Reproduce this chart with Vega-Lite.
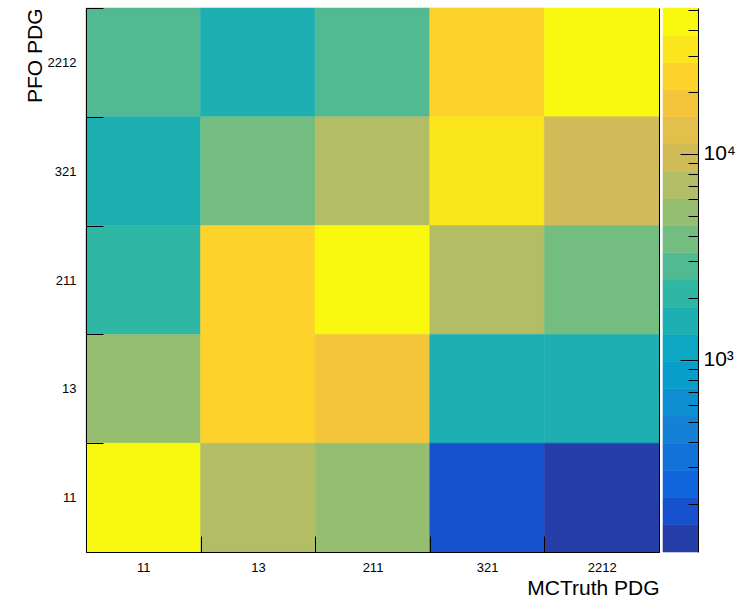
{
  "$schema": "https://vega.github.io/schema/vega-lite/v6.json",
  "background": "white",
  "padding": {"left": 24, "top": 2, "right": 0, "bottom": 0},
  "autosize": {"type": "pad"},
  "spacing": 2,
  "config": {
    "view": {"stroke": null},
    "font": "Liberation Sans",
    "axis": {
      "domainColor": "black",
      "tickColor": "black",
      "labelColor": "black",
      "titleColor": "black",
      "domainWidth": 1,
      "tickWidth": 1,
      "grid": false,
      "titleFontWeight": "normal",
      "labelFont": "Liberation Sans",
      "titleFont": "Liberation Sans"
    }
  },
  "datasets": {
    "cells": [
      {"mc": "11", "pfo": "2212", "count": 2838},
      {"mc": "13", "pfo": "2212", "count": 1545},
      {"mc": "211", "pfo": "2212", "count": 2838},
      {"mc": "321", "pfo": "2212", "count": 23840},
      {"mc": "2212", "pfo": "2212", "count": 43790},
      {"mc": "11", "pfo": "321", "count": 1545},
      {"mc": "13", "pfo": "321", "count": 3846},
      {"mc": "211", "pfo": "321", "count": 7065},
      {"mc": "321", "pfo": "321", "count": 32310},
      {"mc": "2212", "pfo": "321", "count": 9577},
      {"mc": "11", "pfo": "211", "count": 2094},
      {"mc": "13", "pfo": "211", "count": 23840},
      {"mc": "211", "pfo": "211", "count": 43790},
      {"mc": "321", "pfo": "211", "count": 7065},
      {"mc": "2212", "pfo": "211", "count": 3846},
      {"mc": "11", "pfo": "13", "count": 5213},
      {"mc": "13", "pfo": "13", "count": 23840},
      {"mc": "211", "pfo": "13", "count": 17590},
      {"mc": "321", "pfo": "13", "count": 1545},
      {"mc": "2212", "pfo": "13", "count": 1545},
      {"mc": "11", "pfo": "11", "count": 43790},
      {"mc": "13", "pfo": "11", "count": 7065},
      {"mc": "211", "pfo": "11", "count": 5213},
      {"mc": "321", "pfo": "11", "count": 184},
      {"mc": "2212", "pfo": "11", "count": 136}
    ],
    "bands": [
      {"c": "z", "lo": 116.6, "hi": 158},
      {"c": "z", "lo": 158, "hi": 214.1},
      {"c": "z", "lo": 214.1, "hi": 290.2},
      {"c": "z", "lo": 290.2, "hi": 393.3},
      {"c": "z", "lo": 393.3, "hi": 533.1},
      {"c": "z", "lo": 533.1, "hi": 722.5},
      {"c": "z", "lo": 722.5, "hi": 979.4},
      {"c": "z", "lo": 979.4, "hi": 1327.4},
      {"c": "z", "lo": 1327.4, "hi": 1799.1},
      {"c": "z", "lo": 1799.1, "hi": 2438.6},
      {"c": "z", "lo": 2438.6, "hi": 3305.3},
      {"c": "z", "lo": 3305.3, "hi": 4479.9},
      {"c": "z", "lo": 4479.9, "hi": 6072.1},
      {"c": "z", "lo": 6072.1, "hi": 8230.1},
      {"c": "z", "lo": 8230.1, "hi": 11155},
      {"c": "z", "lo": 11155, "hi": 15119},
      {"c": "z", "lo": 15119, "hi": 20492},
      {"c": "z", "lo": 20492, "hi": 27775},
      {"c": "z", "lo": 27775, "hi": 37647},
      {"c": "z", "lo": 37647, "hi": 51026}
    ]
  },
  "hconcat": [
    {
      "width": 573,
      "height": 544,
      "data": {"name": "cells"},
      "layer": [
        {
          "mark": {"type": "rect", "strokeWidth": 0.6},
          "encoding": {
            "x": {
              "field": "mc", "type": "ordinal",
              "sort": ["11", "13", "211", "321", "2212"],
              "scale": {"paddingInner": 0, "paddingOuter": 0},
              "axis": {
                "title": "MCTruth PDG", "titleAnchor": "end", "titleFontSize": 21,
                "titlePadding": 3, "labelAngle": 0, "labelFontSize": 13,
                "tickBand": "extent", "tickSize": -16, "labelPadding": 25
              }
            },
            "y": {
              "field": "pfo", "type": "ordinal",
              "sort": ["2212", "321", "211", "13", "11"],
              "scale": {"paddingInner": 0, "paddingOuter": 0},
              "axis": {
                "title": "PFO PDG", "titleAnchor": "start", "titleAlign": "right", "titleFontSize": 21,
                "titlePadding": 2, "labelFontSize": 13,
                "tickBand": "extent", "tickSize": -17, "labelPadding": 27
              }
            },
            "color": {
              "field": "count", "type": "quantitative",
              "scale": {
                "type": "threshold",
                "domain": [158, 214.1, 290.2, 393.3, 533.1, 722.5, 979.4, 1327.4, 1799.1, 2438.6, 3305.3, 4479.9, 6072.1, 8230.1, 11155, 15119, 20492, 27775, 37647],
                "range": ["#263EA8", "#1652CD", "#1064DC", "#1272D9", "#1481D6", "#0E8FD1", "#099DCC", "#0DA7C3", "#1EAFB3", "#2EB7A4", "#52BA92", "#74BD81", "#95BE71", "#B3BD65", "#D1BB59", "#E2C04B", "#F4C53B", "#FDD22B", "#FBE61D", "#F9F90F"]
              },
              "legend": null
            },
            "stroke": {
              "field": "count", "type": "quantitative",
              "scale": {
                "type": "threshold",
                "domain": [158, 214.1, 290.2, 393.3, 533.1, 722.5, 979.4, 1327.4, 1799.1, 2438.6, 3305.3, 4479.9, 6072.1, 8230.1, 11155, 15119, 20492, 27775, 37647],
                "range": ["#263EA8", "#1652CD", "#1064DC", "#1272D9", "#1481D6", "#0E8FD1", "#099DCC", "#0DA7C3", "#1EAFB3", "#2EB7A4", "#52BA92", "#74BD81", "#95BE71", "#B3BD65", "#D1BB59", "#E2C04B", "#F4C53B", "#FDD22B", "#FBE61D", "#F9F90F"]
              },
              "legend": null
            }
          }
        },
        {
          "mark": {"type": "rect", "opacity": 0},
          "encoding": {
            "x": {
              "field": "mc", "type": "ordinal",
              "sort": ["11", "13", "211", "321", "2212"]
            },
            "y": {
              "field": "pfo", "type": "ordinal",
              "sort": ["2212", "321", "211", "13", "11"],
              "axis": {"orient": "right", "labels": false, "ticks": false, "title": null}
            }
          }
        }
      ],
      "resolve": {"axis": {"y": "independent"}}
    },
    {
      "width": 35,
      "height": 544,
      "data": {"name": "bands"},
      "layer": [
        {
          "mark": {"type": "rect", "strokeWidth": 0.6},
          "encoding": {
            "x": {"field": "c", "type": "nominal", "axis": null, "scale": {"paddingInner": 0, "paddingOuter": 0}},
            "y": {
              "field": "lo", "type": "quantitative",
              "scale": {"type": "log", "domain": [116.6, 51026], "nice": false, "zero": false},
              "axis": {
                "orient": "right", "title": null, "labels": false, "tickSize": -10, "zindex": 1,
                "values": [200, 300, 400, 500, 600, 700, 800, 900, 2000, 3000, 4000, 5000, 6000, 7000, 8000, 9000, 20000, 30000, 40000, 50000]
              }
            },
            "y2": {"field": "hi"},
            "color": {
              "field": "lo", "type": "quantitative",
              "scale": {
                "type": "threshold",
                "domain": [158, 214.1, 290.2, 393.3, 533.1, 722.5, 979.4, 1327.4, 1799.1, 2438.6, 3305.3, 4479.9, 6072.1, 8230.1, 11155, 15119, 20492, 27775, 37647],
                "range": ["#263EA8", "#1652CD", "#1064DC", "#1272D9", "#1481D6", "#0E8FD1", "#099DCC", "#0DA7C3", "#1EAFB3", "#2EB7A4", "#52BA92", "#74BD81", "#95BE71", "#B3BD65", "#D1BB59", "#E2C04B", "#F4C53B", "#FDD22B", "#FBE61D", "#F9F90F"]
              },
              "legend": null
            },
            "stroke": {
              "field": "lo", "type": "quantitative",
              "scale": {
                "type": "threshold",
                "domain": [158, 214.1, 290.2, 393.3, 533.1, 722.5, 979.4, 1327.4, 1799.1, 2438.6, 3305.3, 4479.9, 6072.1, 8230.1, 11155, 15119, 20492, 27775, 37647],
                "range": ["#263EA8", "#1652CD", "#1064DC", "#1272D9", "#1481D6", "#0E8FD1", "#099DCC", "#0DA7C3", "#1EAFB3", "#2EB7A4", "#52BA92", "#74BD81", "#95BE71", "#B3BD65", "#D1BB59", "#E2C04B", "#F4C53B", "#FDD22B", "#FBE61D", "#F9F90F"]
              },
              "legend": null
            }
          }
        },
        {
          "mark": {"type": "rect", "opacity": 0},
          "encoding": {
            "x": {"field": "c", "type": "nominal", "axis": null},
            "y": {
              "field": "lo", "type": "quantitative",
              "axis": {
                "orient": "right", "title": null, "domain": false, "tickSize": -18, "zindex": 1,
                "values": [1000, 10000], "labelFontSize": 21, "labelPadding": 23,
                "labelExpr": "datum.value == 1000 ? '10³' : '10⁴'"
              }
            },
            "y2": {"field": "hi"}
          }
        }
      ],
      "resolve": {"axis": {"y": "independent"}}
    }
  ]
}
